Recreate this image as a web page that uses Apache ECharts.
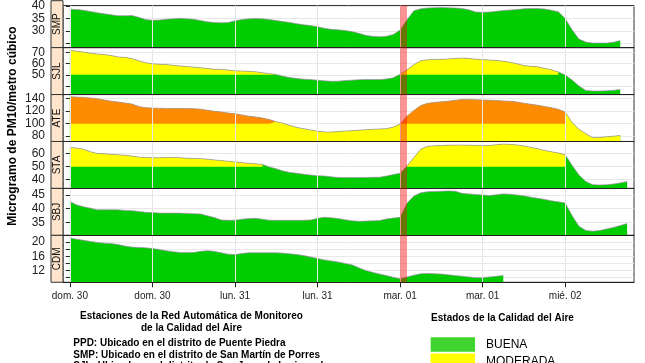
<!DOCTYPE html>
<html><head><meta charset="utf-8">
<script src="https://cdn.jsdelivr.net/npm/echarts@6/dist/echarts.min.js"></script>
<style>html,body{margin:0;padding:0;background:#fff}#c{width:645px;height:363px}</style>
</head><body><div id="c"></div><script>
// ---- data ----
const tickHours = [0, 12, 24, 36, 48, 60, 72];
const tickLabels = ['dom. 30', 'dom. 30', 'lun. 31', 'lun. 31', 'mar. 01', 'mar. 01', 'mié. 02'];
const stations = ['SMP', 'SJL', 'ATE', 'STA', 'SBJ', 'CDM'];
const smp = [38.7,38.6,38.3,37.8,37.3,36.9,36.5,36.1,36.1,36.2,35.5,34.6,34.3,34.4,34.7,34.9,35.1,34.9,34.7,34.2,33.7,33.4,33.3,33.4,34.1,34.6,34.9,35.0,34.9,34.6,34.2,33.8,33.4,32.9,32.5,32.2,31.7,31.1,30.7,30.5,30.2,29.8,29.1,28.3,27.9,27.7,27.9,28.6,30.4,34.5,38.1,38.9,39.2,39.3,39.4,39.3,39.2,39.0,38.5,37.6,37.5,37.6,37.9,38.2,38.4,38.6,38.9,39.0,39.0,38.8,38.3,37.7,35.0,30.5,26.8,25.6,25.2,25.2,25.2,25.5,26.2];
const sjl = [71.9,71.0,70.3,69.3,68.6,68.1,67.2,66.0,65.6,64.5,62.5,60.8,59.8,59.4,59.1,58.5,57.9,57.4,56.8,56.3,55.6,55.0,54.8,54.2,53.6,53.3,53.1,52.7,51.8,51.0,50.3,48.6,47.5,46.6,46.1,45.7,45.2,44.6,44.2,44.3,44.8,45.2,45.6,45.8,45.7,45.7,46.2,47.3,50.4,54.5,59.0,62.6,63.4,63.7,63.9,64.2,64.6,65.0,64.6,64.0,63.6,63.2,62.8,62.2,61.2,59.8,58.3,57.6,57.1,55.8,54.4,52.6,49.8,45.4,40.0,36.0,35.5,35.5,35.7,36.1,36.8];
const ate = [143,142.5,142,141,139.8,138,136,134.5,133,131.5,127.5,125.5,125,124.6,124.3,124.2,124.2,124.2,124.0,123.2,121.5,119.8,118.7,117,116,114,112,110.5,109,106.5,103,100.5,97,94,92,90,88,86.8,86.5,87.5,88.2,88.8,89.6,90.3,91,91.5,92,94.5,99.5,112,121,129,132.5,134,135,136,137.5,138.5,138.8,138.3,137.8,137.5,137,136.4,135.8,134.5,132.7,131,129.5,127.5,125.5,123,118.7,102,91,84,77.5,78,79,80,81];
const sta = [64.9,64.4,63.5,61.5,60.2,59.9,59.6,59.2,58.8,58.2,57.4,57.1,56.9,56.9,57.0,57.2,56.9,56.5,56.3,56.2,55.8,55.2,54.7,54.2,53.6,53.1,52.6,52.2,51.7,49.8,48.3,46.6,45.5,44.8,44.1,43.5,43.0,42.7,42.1,41.6,41.5,41.5,41.5,41.6,41.7,41.8,42.7,43.8,44.9,50.5,57.0,63.5,65.8,66.2,66.4,66.6,66.7,66.7,66.6,66.5,66.4,66.4,67.0,67.5,67.3,66.8,66.0,65.0,63.9,62.6,61.5,60.6,59.2,51.0,43.5,38.5,36.0,35.8,35.9,36.5,37.4,38.5];
const sbj = [42.6,41.4,40.7,40.2,39.6,39.6,39.6,39.6,39.4,39.3,39.0,38.7,38.6,38.4,38.4,38.4,38.4,38.3,38.2,38.1,37.4,36.8,35.9,35.8,35.8,36.2,36.4,36.5,36.2,35.8,35.8,35.8,35.8,35.8,35.8,35.9,36.5,36.9,36.7,36.4,36.0,35.6,35.4,35.5,35.6,35.7,36.3,36.6,36.9,42.0,44.6,45.8,46.2,46.3,46.4,46.5,46.4,45.6,45.4,45.2,45.0,44.8,45.1,45.4,45.3,45.0,44.7,44.2,43.8,43.4,42.9,42.5,42.1,37.5,33.6,32.1,31.8,32.1,32.6,33.2,33.9,34.6];
const cdm = [21.2,20.8,20.5,20.2,19.9,19.7,19.6,19.3,18.9,18.6,18.5,18.4,18.2,17.9,17.6,17.3,17.1,17.1,17.1,17.4,17.6,17.4,17.0,16.6,16.5,16.8,17.0,17.0,17.0,17.0,17.0,16.9,16.7,16.5,16.2,15.8,15.4,15.0,14.7,14.4,14.0,13.6,12.8,12.0,11.5,11.0,10.6,10.1,9.7,10.2,10.7,11.1,11.2,11.1,11.0,10.8,10.6,10.4,10.2,10.0,10.0,10.2,10.4,10.6];
const stationValues = [smp, sjl, ate, sta, sbj, cdm];
// hour ranges in which the quality state is "moderada" / "mala"
const smpModerada = [], sjlModerada = [[0, 30], [48, 71]], ateModerada = [[0, 80]];
const staModerada = [[0, 28], [49, 72]], sbjModerada = [], cdmModerada = [];
const ateMala = [[0, 30], [48, 72]];
const moderadaRanges = [smpModerada, sjlModerada, ateModerada, staModerada, sbjModerada, cdmModerada];
const malaRanges = [[], [], ateMala, [], [], []];
const limits = [50, 100];
const yMin = [23.4, 32.3, 71.5, 33.1, 30.3, 8.7];
const yMax = [40.2, 74.3, 146.5, 69.5, 47.4, 21.9];
const yTicks = [[25, 30, 35, 40], [40, 50, 60, 70], [80, 100, 120, 140], [40, 50, 60], [35, 40, 45], [10, 12, 14, 16, 18, 20]];
const yTickLabels = [[30, 35, 40], [50, 60, 70], [80, 100, 120, 140], [40, 50, 60], [35, 40, 45], [12, 16, 20]];
const eventBand = [48, 49];

// ---- layout / style ----
const L = 63, R = 11, T0 = 0.7, H = 46.93, AX = 51;
const GREEN = '#00cc00', YELLOW = '#ffff00', ORANGE = '#ff8c00';
const FONT = '"Liberation Sans", Arial, sans-serif';
const inR = (h, rs) => rs.some(r => h >= r[0] && h <= r[1]);

const grids = [], xAxes = [], yAxes = [], series = [], graphics = [];
stations.forEach((st, i) => {
  const top = T0 + i * H;
  const last = i === stations.length - 1;
  grids.push({ left: L, right: R, top: top, height: H, show: true, borderColor: '#333', borderWidth: 1 });
  xAxes.push({
    type: 'value', gridIndex: i, min: -1, max: 82, z: 10,
    axisLine: { show: true, onZero: false, lineStyle: { color: '#222', width: 1 } },
    axisTick: { show: last, length: 5, lineStyle: { color: '#222' }, customValues: tickHours },
    axisLabel: { show: last, customValues: tickHours, margin: 9, fontSize: 10, color: '#222', fontFamily: FONT,
      hideOverlap: false, formatter: v => tickLabels[tickHours.indexOf(v)] },
    splitLine: { show: true, lineStyle: { color: '#e6e6e6', width: 1 } }
  });
  // two y axes per panel (labels split in alternating sets so none is dropped as overlapping)
  const lab = yTickLabels[i];
  [0, 1].forEach(k => {
    yAxes.push({
      type: 'value', gridIndex: i, min: yMin[i], max: yMax[i], position: 'left', offset: L - AX,
      axisLine: { show: k === 0, lineStyle: { color: '#222' } },
      axisTick: { show: k === 0, length: 4, lineStyle: { color: '#222' }, customValues: yTicks[i] },
      axisLabel: { customValues: lab.filter((_, j) => j % 2 === k), margin: 6, fontSize: 12, color: '#222', fontFamily: FONT,
        hideOverlap: false, showMinLabel: true, showMaxLabel: true },
      splitLine: { show: k === 0, lineStyle: { color: '#e8e8e8', width: 1 } }
    });
  });
  const yi = 2 * i;
  const vals = stationValues[i];
  series.push({ type: 'line', xAxisIndex: i, yAxisIndex: yi, symbol: 'none', silent: true, z: 2,
    lineStyle: { width: 0 }, areaStyle: { color: GREEN, opacity: 1 },
    data: vals.map((v, h) => [h, v]) });
  if (moderadaRanges[i].length) series.push({ type: 'line', xAxisIndex: i, yAxisIndex: yi, symbol: 'none', silent: true, z: 3,
    lineStyle: { width: 0 }, areaStyle: { color: YELLOW, opacity: 1, origin: limits[0] },
    data: vals.map((v, h) => inR(h, moderadaRanges[i]) ? [h, Math.max(v, limits[0])] : [h, '-']) });
  if (malaRanges[i].length) series.push({ type: 'line', xAxisIndex: i, yAxisIndex: yi, symbol: 'none', silent: true, z: 4,
    lineStyle: { width: 0 }, areaStyle: { color: ORANGE, opacity: 1, origin: limits[1] },
    data: vals.map((v, h) => inR(h, malaRanges[i]) ? [h, Math.max(v, limits[1])] : [h, '-']) });
  series.push({ type: 'line', xAxisIndex: i, yAxisIndex: yi, symbol: 'none', silent: true, z: 5,
    lineStyle: { width: 1, color: 'rgba(165,135,175,0.65)' },
    data: vals.map((v, h) => [h, v]),
    markArea: { silent: true, z: 20, itemStyle: { color: 'rgba(255,0,0,0.42)' },
      data: [[{ xAxis: eventBand[0] }, { xAxis: eventBand[1] }]] } });
  // strip
  graphics.push({ type: 'rect', z: 50, shape: { x: AX, y: top, width: L - AX, height: H },
    style: { fill: '#ffe5cc', stroke: '#333', lineWidth: 1 } });
  graphics.push({ type: 'text', z: 51, x: AX + (L - AX) / 2 + 0.5, y: top + H / 2, rotation: Math.PI / 2,
    style: { text: st, font: '10px ' + FONT, fill: '#111', align: 'center', verticalAlign: 'middle' } });
});

const txt = (x, y, t, opt) => Object.assign({ type: 'text', z: 60, x: x, y: y,
  style: Object.assign({ text: t, font: 'bold 10px ' + FONT, fill: '#000', align: 'center', verticalAlign: 'middle' }, opt || {}) });
graphics.push(txt(13, 126, 'Microgramo de PM10/metro cúbico', { font: 'bold 12px ' + FONT }));
graphics[graphics.length - 1].rotation = Math.PI / 2;
graphics.push(txt(191.5, 316, 'Estaciones de la Red Automática de Monitoreo'));
graphics.push(txt(191.5, 328.3, 'de la Calidad del Aire'));
graphics.push(txt(73.3, 343.3, 'PPD: Ubicado en el distrito de Puente Piedra', { align: 'left' }));
graphics.push(txt(73.3, 355, 'SMP: Ubicado en el distrito de San Martín de Porres', { align: 'left' }));
graphics.push(txt(73.3, 366.7, 'SJL: Ubicado en el distrito de San Juan de Lurigancho', { align: 'left' }));
graphics.push(txt(502.5, 318.3, 'Estados de la Calidad del Aire'));
graphics.push({ type: 'rect', z: 60, shape: { x: 430.7, y: 337.3, width: 44.3, height: 14.4 }, style: { fill: '#3fd42e' } });
graphics.push({ type: 'rect', z: 60, shape: { x: 430.7, y: 353.5, width: 44.3, height: 14.4 }, style: { fill: '#ffff00' } });
graphics.push(txt(486, 344.5, 'BUENA', { font: '12px ' + FONT, align: 'left' }));
graphics.push(txt(486, 361.5, 'MODERADA', { font: '12px ' + FONT, align: 'left' }));

const chart = echarts.init(document.getElementById('c'));
chart.setOption({
  animation: false, backgroundColor: '#fff',
  textStyle: { fontFamily: FONT },
  grid: grids, xAxis: xAxes, yAxis: yAxes, series: series, graphic: graphics
});
</script></body></html>
